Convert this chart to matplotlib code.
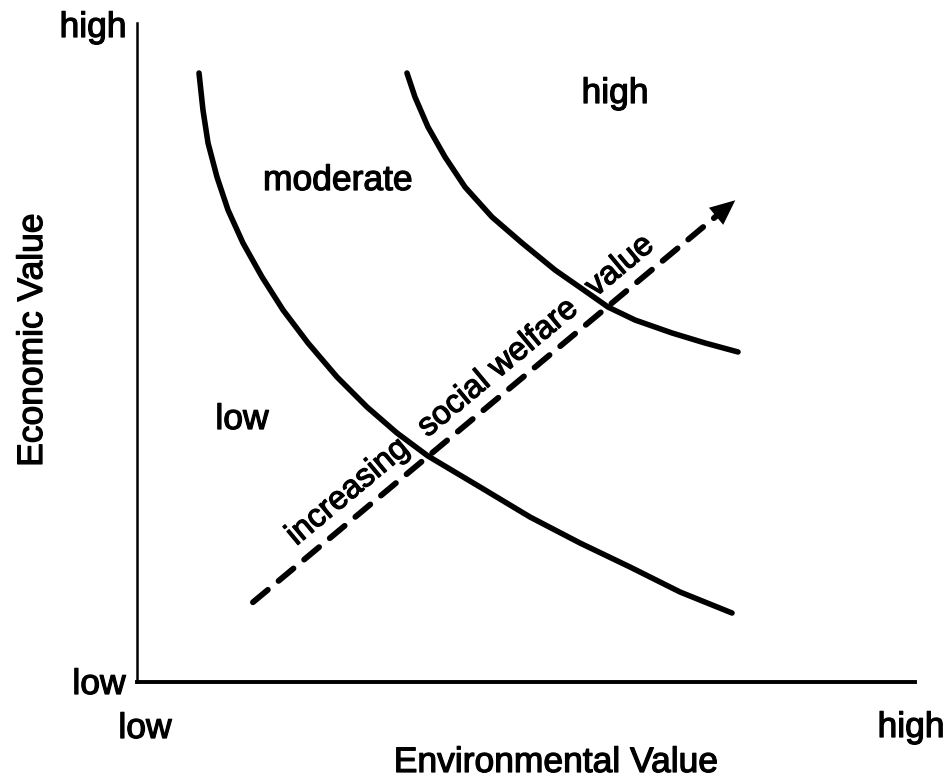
import matplotlib
matplotlib.use("Agg")
import matplotlib.pyplot as plt
from matplotlib.patches import FancyArrowPatch
import matplotlib.patheffects as pe

plt.rcParams['font.family'] = ['Liberation Sans', 'DejaVu Sans']
plt.rcParams['lines.scale_dashes'] = False

# ---- data (0-100 scales) ----
curve_low_x = [7.97, 8.48, 9.13, 10.28, 11.70, 13.62, 16.07, 18.77, 21.98, 25.71, 29.56,
               33.42, 37.40, 44.09, 50.51, 56.94, 63.37, 69.79, 76.48]
curve_low_y = [92.41, 86.80, 81.79, 76.63, 71.62, 66.62, 61.46, 56.45, 51.44, 46.28, 41.73,
               37.78, 34.29, 29.59, 25.04, 21.09, 17.45, 13.66, 10.47]

curve_high_x = [34.70, 35.73, 37.40, 39.59, 42.16, 45.63, 49.49, 53.73, 57.97, 60.54, 64.01,
                68.77, 73.01, 77.25]
curve_high_y = [92.41, 88.77, 84.22, 79.67, 75.11, 70.56, 66.62, 62.52, 59.03, 56.90, 54.93,
                52.96, 51.44, 50.08]

arrow_x = [14.9, 76.9]
arrow_y = [12.1, 73.1]

region_labels = ["low", "moderate", "high"]
arrow_words = ["increasing", "social welfare", "value"]
x_tick_labels = ["low", "high"]
y_tick_labels = ["low", "high"]
x_label = "Environmental Value"
y_label = "Economic Value"

W, H = 949, 783
fig = plt.figure(figsize=(W / 100, H / 100), dpi=100)
ax = fig.add_axes([137 / W, 1 - 682 / H, 778 / W, 659 / H])
ax.set_xlim(0, 100)
ax.set_ylim(0, 100)
ax.set_xticks([])
ax.set_yticks([])
for s in ['top', 'right']:
    ax.spines[s].set_visible(False)
ax.spines['left'].set_linewidth(1.8)
ax.spines['bottom'].set_linewidth(2.8)
ax.patch.set_alpha(0)

ax.plot(curve_low_x, curve_low_y, color='black', lw=4.0, solid_capstyle='round', solid_joinstyle='round')
ax.plot(curve_high_x, curve_high_y, color='black', lw=4.0, solid_capstyle='round', solid_joinstyle='round')

# dashed arrow
ax_end = arrow_x[0] + 0.97 * (arrow_x[1] - arrow_x[0])
ay_end = arrow_y[0] + 0.97 * (arrow_y[1] - arrow_y[0])
ax.plot([arrow_x[0], ax_end], [arrow_y[0], ay_end], color='black', lw=4.2,
        dashes=[14, 10], dash_capstyle='round')
head = FancyArrowPatch((arrow_x[0] + 0.9 * (arrow_x[1] - arrow_x[0]), arrow_y[0] + 0.9 * (arrow_y[1] - arrow_y[0])),
                       (arrow_x[1], arrow_y[1]),
                       arrowstyle='-|>,head_length=0.9,head_width=0.4', mutation_scale=20,
                       color='black', lw=0, shrinkA=0, shrinkB=0)
ax.add_patch(head)

def px(x, y):
    return x / W, 1 - y / H

fx = [pe.withStroke(linewidth=0.9, foreground='black')]
fs = 25.5
kw = dict(fontsize=fs, path_effects=fx)
# axis end labels
fig.text(*px(93, 37), y_tick_labels[1], ha='center', va='baseline', **kw)
fig.text(*px(99, 694), y_tick_labels[0], ha='center', va='baseline', **kw)
fig.text(*px(145, 738), x_tick_labels[0], ha='center', va='baseline', **kw)
fig.text(*px(911, 737), x_tick_labels[1], ha='center', va='baseline', **kw)
fig.text(*px(556, 772), x_label, ha='center', va='baseline', **kw)
fig.text(*px(42, 340), y_label, ha='center', va='baseline',
         rotation=90, rotation_mode='anchor', **kw)

# region labels
fig.text(*px(242, 429), region_labels[0], ha='center', va='baseline', **kw)
fig.text(*px(338, 190), region_labels[1], ha='center', va='baseline', **kw)
fig.text(*px(615, 103), region_labels[2], ha='center', va='baseline', **kw)

# words along arrow
ang = 39.8
kw2 = dict(fontsize=23.5, path_effects=fx, ha='center', va='center', rotation=ang, rotation_mode='anchor')
fig.text(*px(348, 492), arrow_words[0], **kw2)
fig.text(*px(498, 368), arrow_words[1], **kw2)
fig.text(*px(620, 266), arrow_words[2], **kw2)

fig.savefig('out.png', dpi=100, facecolor='white')
